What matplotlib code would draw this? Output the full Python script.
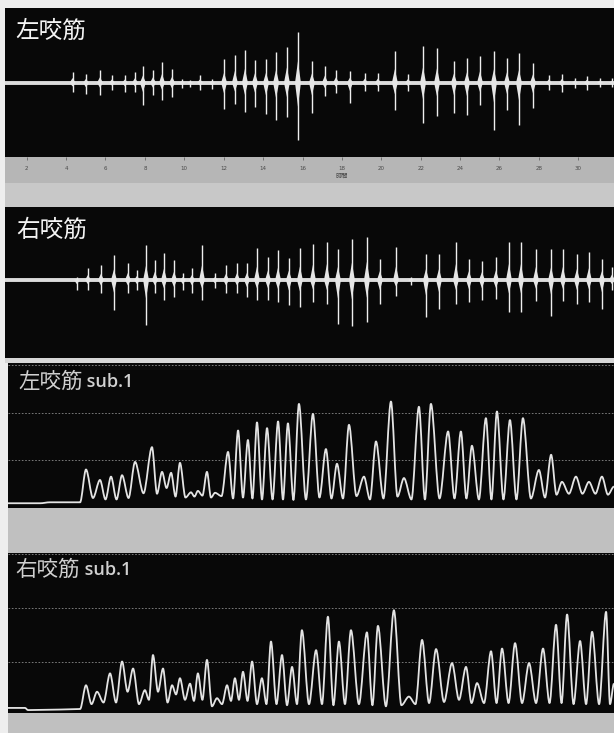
import matplotlib
matplotlib.use("Agg")
import matplotlib.pyplot as plt
from matplotlib.patches import Rectangle, PathPatch
from matplotlib.path import Path

W, H = 614, 733
CJK = ['Noto Sans CJK JP', 'DejaVu Sans']

# ---------------- data ----------------
# time axis ticks (seconds)
tick_vals = [2, 4, 6, 8, 10, 12, 14, 16, 18, 20, 22, 24, 26, 28, 30]
tick_labels = [str(v) for v in tick_vals]
axis_title = "時間"
panel_titles = ["左咬筋", "右咬筋", "左咬筋", "右咬筋"]
sub_suffix = " sub.1"

# raw EMG bursts: time, positive excursion, negative excursion (arbitrary units)
left_t = [4.33, 5.01, 5.72, 6.33, 6.99, 7.50, 7.90, 8.41, 8.87, 9.38, 9.88, 10.29, 10.80, 11.41,
          12.02, 12.57, 13.08, 13.59, 14.15, 14.66, 15.21, 15.77, 16.48, 17.14, 17.70, 18.41,
          19.17, 19.83, 20.69, 21.36, 22.12, 22.83, 23.69, 24.35, 25.01, 25.72, 26.38, 26.99,
          27.70, 28.51, 29.17, 29.83, 30.44, 31.10, 31.71]
left_up = [11, 9, 13, 8, 8, 11, 17, 13, 21, 14, 4, 3, 8, 4,
           24, 28, 33, 23, 24, 31, 36, 51, 22, 17, 13, 12,
           10, 10, 32, 9, 37, 35, 22, 25, 27, 32, 25, 30,
           20, 8, 9, 5, 7, 5, 5]
left_dn = [9, 11, 12, 7, 9, 9, 22, 12, 17, 14, 5, 4, 7, 6,
           26, 21, 29, 24, 31, 37, 34, 57, 30, 13, 10, 20,
           8, 8, 27, 8, 40, 33, 30, 32, 22, 47, 27, 42,
           25, 7, 9, 5, 7, 4, 4]

right_t = [4.55, 5.11, 5.77, 6.43, 7.14, 7.60, 8.06, 8.51, 8.97, 9.48, 9.93, 10.39, 10.90, 11.56,
           12.12, 12.68, 13.18, 13.69, 14.25, 14.76, 15.31, 15.87, 16.53, 17.24, 17.80, 18.51,
           19.27, 19.93, 20.75, 21.51, 22.27, 22.93, 23.79, 24.45, 25.11, 25.82, 26.48, 27.09,
           27.85, 28.62, 29.22, 29.93, 30.54, 31.20, 31.71]
right_up = [3, 12, 15, 25, 17, 10, 35, 20, 27, 20, 7, 12, 35, 7,
            15, 17, 17, 32, 23, 30, 22, 32, 36, 38, 31, 41,
            43, 21, 33, 3, 26, 26, 38, 21, 19, 23, 38, 38,
            31, 31, 31, 26, 28, 21, 13]
right_dn = [10, 10, 13, 30, 13, 10, 45, 13, 20, 17, 10, 13, 20, 8,
            13, 13, 17, 20, 20, 22, 25, 27, 22, 24, 44, 46,
            42, 24, 16, 5, 37, 29, 24, 22, 20, 19, 32, 32,
            21, 36, 21, 24, 22, 29, 10]

# processed envelopes (sub.1): resting baseline, peaks, troughs between peaks
lsub_base_t = [1.05, 2.68, 3.18, 4.71]
lsub_base_v = [0.10, 0.10, 0.12, 0.12]
lsub_pk_t = [5.01, 5.72, 6.28, 6.84, 7.50, 8.36, 8.87, 9.33, 9.78, 10.34, 10.69, 11.15, 11.56,
             12.22, 12.73, 13.23, 13.69, 14.20, 14.76, 15.26, 15.82, 16.53, 17.19, 17.75, 18.36,
             19.12, 19.73, 20.49, 21.15, 21.91, 22.52, 23.39, 24.04, 24.60, 25.31, 25.87, 26.53,
             27.19, 28.00, 28.62, 29.17, 29.88, 30.54, 31.20, 31.81]
lsub_pk_v = [0.81, 0.59, 0.66, 0.69, 0.97, 1.28, 0.76, 0.74, 0.95, 0.33, 0.36, 0.76, 0.32,
             1.18, 1.63, 1.43, 1.80, 1.68, 1.82, 1.78, 2.19, 1.98, 1.24, 0.93, 1.75,
             0.66, 1.40, 2.24, 0.63, 2.13, 2.19, 1.61, 1.61, 1.31, 1.89, 2.03, 1.85,
             1.89, 0.80, 1.12, 0.55, 0.66, 0.55, 0.66, 0.45]
lsub_tr_v = [0.21, 0.18, 0.18, 0.21, 0.31, 0.30, 0.42, 0.24, 0.22, 0.24, 0.26, 0.22, 0.25,
             0.20, 0.22, 0.20, 0.18, 0.18, 0.18, 0.17, 0.18, 0.22, 0.20, 0.20, 0.25, 0.18,
             0.20, 0.24, 0.18, 0.18, 0.20, 0.20, 0.20, 0.18, 0.18, 0.18, 0.18, 0.20, 0.22,
             0.28, 0.30, 0.30, 0.30, 0.28]

rsub_base_t = [1.05, 1.91, 2.07, 3.69, 4.71]
rsub_base_v = [0.15, 0.15, 0.11, 0.12, 0.13]
rsub_pk_t = [5.01, 5.57, 6.23, 6.84, 7.40, 8.00, 8.41, 8.92, 9.38, 9.78, 10.29, 10.69, 11.15,
             11.66, 12.17, 12.57, 12.98, 13.44, 13.94, 14.40, 14.96, 15.47, 15.97, 16.69, 17.29,
             17.85, 18.46, 19.27, 19.83, 20.64, 21.40, 22.07, 22.78, 23.59, 24.30, 24.86, 25.57,
             26.13, 26.79, 27.50, 28.21, 28.87, 29.43, 30.09, 30.70, 31.41, 31.81]
rsub_pk_v = [0.57, 0.45, 0.79, 1.01, 0.88, 0.48, 1.13, 0.88, 0.57, 0.70, 0.60, 0.79, 1.04,
             0.33, 0.57, 0.70, 0.82, 1.01, 0.70, 1.38, 1.13, 0.91, 1.59, 1.22, 1.84,
             1.38, 1.59, 1.55, 1.67, 1.96, 0.36, 1.41, 1.24, 0.98, 0.91, 0.61, 1.20,
             1.25, 1.35, 0.98, 1.25, 1.69, 1.88, 1.39, 1.56, 1.93, 0.60]
rsub_tr_v = [0.22, 0.25, 0.25, 0.45, 0.22, 0.30, 0.45, 0.25, 0.40, 0.30,
             0.28, 0.30, 0.18, 0.22, 0.28, 0.30, 0.28, 0.22, 0.22, 0.22,
             0.20, 0.22, 0.22, 0.22, 0.20, 0.22, 0.22, 0.20, 0.18, 0.20,
             0.22, 0.24, 0.26, 0.30, 0.24, 0.24, 0.24, 0.24, 0.24, 0.24,
             0.24, 0.24, 0.22, 0.22, 0.22, 0.22]

# ---------------- layout helpers ----------------
def px_rect(x0, y0, x1, y1):
    return [x0 / W, 1 - y1 / H, (x1 - x0) / W, (y1 - y0) / H]

def px_to_t(x):
    return (x + 12.7) / 19.7

def clean(ax, face="#080808"):
    ax.set_facecolor(face)
    for s in ax.spines.values():
        s.set_visible(False)
    ax.tick_params(left=False, bottom=False, labelleft=False, labelbottom=False)

def gray_rect(fig, x0, y0, x1, y1, color):
    fig.patches.append(Rectangle((x0 / W, 1 - y1 / H), (x1 - x0) / W, (y1 - y0) / H,
                                 transform=fig.transFigure, facecolor=color,
                                 edgecolor="none", zorder=0))

def draw_raw(ax, t, up, dn, lo, hi):
    ax.set_ylim(lo, hi)
    ax.axhline(0, color="#dcdcdc", lw=2.8, zorder=2)
    ax.vlines(t, [-d for d in dn], up, color="#eeeeee", lw=1.0, zorder=3)
    w = 0.15
    for ti, u, d in zip(t, up, dn):
        ax.fill([ti - w, ti, ti + w, ti], [0, 0.42 * u, 0, -0.42 * d],
                color="#e6e6e6", lw=0, zorder=3)

def draw_env(ax, base_t, base_v, pk_t, pk_v, tr_v):
    xs, ys = list(base_t), list(base_v)
    for i in range(len(pk_t)):
        xs.append(pk_t[i]); ys.append(pk_v[i])
        if i < len(tr_v):
            xs.append((pk_t[i] + pk_t[i + 1]) / 2); ys.append(tr_v[i])
    verts = [(xs[0], ys[0])]
    codes = [Path.MOVETO]
    k = 0.32
    for i in range(1, len(xs)):
        x0, y0, x1, y1 = xs[i - 1], ys[i - 1], xs[i], ys[i]
        dx = x1 - x0
        verts += [(x0 + k * dx, y0), (x1 - k * dx, y1), (x1, y1)]
        codes += [Path.CURVE4] * 3
    ax.add_patch(PathPatch(Path(verts, codes), fill=False, edgecolor="#e4e4e4",
                           lw=1.3, zorder=3, joinstyle="round"))
    ax.set_yticks([1, 2, 3])
    ax.grid(axis="y", color="#8a8a8a", lw=0.6, linestyle=(0, (2, 2)))
    ax.set_axisbelow(True)

# ---------------- figure ----------------
fig = plt.figure(figsize=(W / 100, H / 100), dpi=100, facecolor="#eeeeee")

gray_rect(fig, 5, 183, W, 207, "#c8c8c8")
gray_rect(fig, 5, 358, W, 363, "#d6d6d6")
gray_rect(fig, 8, 508, W, 553, "#c0c0c0")
gray_rect(fig, 8, 713, W, H, "#c0c0c0")

# panel 1 - left raw
ax1 = fig.add_axes(px_rect(5, 8, W, 157))
clean(ax1)
ax1.set_xlim(px_to_t(5), px_to_t(W))
draw_raw(ax1, left_t, left_up, left_dn, -74.3, 74.7)

# time strip
axs = fig.add_axes(px_rect(5, 157, W, 183))
clean(axs, "#b6b6b6")
axs.set_xlim(px_to_t(5), px_to_t(W))
axs.set_ylim(0, 1)
axs.xaxis.tick_top()
axs.set_xticks(tick_vals)
axs.set_xticklabels(tick_labels)
axs.tick_params(axis="x", top=True, labeltop=True, direction="in", length=2, width=0.5,
                color="#555555", labelsize=4, labelcolor="#4a4a4a", pad=-10)
axs.text(18, 0.12, axis_title, fontsize=4.5, color="#4a4a4a", ha="center", va="bottom",
         family=CJK)

# panel 2 - right raw
ax2 = fig.add_axes(px_rect(5, 207, W, 358))
clean(ax2)
ax2.set_xlim(px_to_t(5), px_to_t(W))
draw_raw(ax2, right_t, right_up, right_dn, -78, 73)

# panel 3 - left envelope
ax3 = fig.add_axes(px_rect(8, 363, W, 508))
clean(ax3)
ax3.set_xlim(px_to_t(8), px_to_t(W))
ax3.set_ylim(0, 3.05)
draw_env(ax3, lsub_base_t, lsub_base_v, lsub_pk_t, lsub_pk_v, lsub_tr_v)

# panel 4 - right envelope
ax4 = fig.add_axes(px_rect(8, 553, W, 713))
clean(ax4)
ax4.set_xlim(px_to_t(8), px_to_t(W))
ax4.set_ylim(0.056, 3.02)
draw_env(ax4, rsub_base_t, rsub_base_v, rsub_pk_t, rsub_pk_v, rsub_tr_v)

# titles
def ax_title(ax, x, y, s, size, color):
    return ax.text(x / W, 1 - y / H, s, fontsize=size, color=color, ha="left",
                   va="center", family=CJK, transform=fig.transFigure, zorder=5)

ax_title(ax1, 15, 31, panel_titles[0], 17, "#f4f4f4")
ax_title(ax2, 16, 230, panel_titles[1], 17, "#f4f4f4")
for ax, x, y, name in [(ax3, 18, 382, panel_titles[2]), (ax4, 15, 570, panel_titles[3])]:
    t1 = ax_title(ax, x, y, name, 15.5, "#d0d0d0")
    ax.annotate(sub_suffix, xy=(1, 0.5), xycoords=t1, ha="left", va="center",
                fontsize=13, color="#d0d0d0", weight="semibold",
                family=['Open Sans', 'DejaVu Sans'], annotation_clip=False, zorder=5)

fig.savefig("out.png", dpi=100, facecolor=fig.get_facecolor())
